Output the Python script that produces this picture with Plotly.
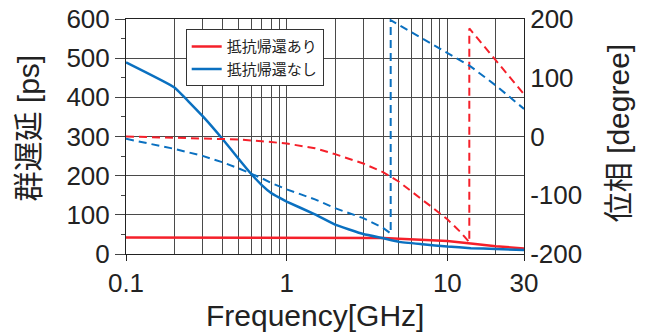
import plotly.graph_objects as go
import numpy as np

# ---- data ----
freq_delay = [0.1, 0.2, 0.3, 0.4, 0.5, 0.6, 0.7, 0.8, 0.9, 1, 1.5, 2, 3, 4, 5, 7, 10, 14, 20, 30]
delay_with = [42, 42, 42, 42, 42, 42, 42, 42, 42, 42, 42, 42, 42, 41, 39, 37, 33, 27, 20, 14]
delay_without = [489, 425, 352, 293, 244, 205, 176, 156, 144, 134, 101, 75, 51, 40, 31, 25, 19, 15, 13, 10]

freq_phase_with = [0.1, 0.2, 0.3, 0.5, 0.7, 1, 1.5, 2, 3, 4, 5, 6, 7, 8, 10, 12, 13.7, 13.7, 20, 30]
phase_with = [0, -2, -3, -5, -8, -12, -20, -30, -46, -61, -77, -93, -108, -120, -141, -162, -180, 184, 130, 72]

freq_phase_without = [0.1, 0.2, 0.3, 0.4, 0.5, 0.6, 0.7, 0.8, 0.9, 1, 1.5, 2, 3, 4, 4.44, 4.44, 5, 7, 10, 14, 20, 30]
phase_without = [-4, -21, -33, -44, -54, -63, -71, -79, -85, -90, -107, -122, -139, -156, -165, 198, 190, 167, 142, 119, 87, 47]

legend_names = ["抵抗帰還あり", "抵抗帰還なし"]
x_tick_vals = [0.1, 1, 10, 30]
x_tick_text = ["0.1", "1", "10", "30"]
x_minor_vals = [0.2, 0.3, 0.4, 0.5, 0.6, 0.7, 0.8, 0.9, 2, 3, 4, 5, 6, 7, 8, 9, 20]
phase_tick_vals = [-200, -100, 0, 100, 200]
phase_tick_text = ["-200", "-100", "0", "100", "200"]

RED = "#f5202a"
BLUE = "#0a70c0"
FONT = "Liberation Sans, Arial, Noto Sans CJK JP, sans-serif"
GRID = "#4a4a4a"
TXT = "#222222"

fig = go.Figure()
fig.add_trace(go.Scatter(x=freq_delay, y=delay_with, mode="lines", name=legend_names[0],
                         line=dict(color=RED, width=2.5)))
fig.add_trace(go.Scatter(x=freq_delay, y=delay_without, mode="lines", name=legend_names[1],
                         line=dict(color=BLUE, width=2.5, shape="spline", smoothing=0.3)))
fig.add_trace(go.Scatter(x=freq_phase_with, y=phase_with, mode="lines", showlegend=False,
                         yaxis="y2", line=dict(color=RED, width=2, dash="8px,5px")))
fig.add_trace(go.Scatter(x=freq_phase_without, y=phase_without, mode="lines", showlegend=False,
                         yaxis="y2", line=dict(color=BLUE, width=2, dash="8px,5px")))

fig.update_layout(
    width=647, height=333,
    margin=dict(l=126, r=123, t=19, b=79),
    paper_bgcolor="white", plot_bgcolor="white",
    font=dict(family=FONT, color=TXT),
    showlegend=True,
    legend=dict(x=0.15, y=0.956, xanchor="left", yanchor="top",
                bgcolor="white", bordercolor="#333333", borderwidth=1,
                font=dict(size=15, family=FONT, color=TXT),
                itemwidth=30, tracegroupgap=0),
    xaxis=dict(type="log", range=[-1, np.log10(30)], automargin=False,
               tickmode="array", tickvals=x_tick_vals, ticktext=x_tick_text,
               ticks="outside", ticklen=6, tickcolor="#222", tickwidth=1,
               tickfont=dict(size=26, family=FONT, color=TXT),
               showgrid=True, gridcolor=GRID, gridwidth=1,
               minor=dict(tickmode="array", tickvals=x_minor_vals, showgrid=True,
                          gridcolor=GRID, gridwidth=1, ticks=""),
               showline=True, linecolor="#222", linewidth=1, mirror=True,
               zeroline=False),
    yaxis=dict(range=[0, 600], tickmode="linear", tick0=0, dtick=100, automargin=False,
               ticks="outside", ticklen=10, tickcolor="#444", tickwidth=1,
               tickfont=dict(size=26, family=FONT, color=TXT),
               showgrid=True, gridcolor=GRID, gridwidth=1,
               minor=dict(dtick=50, ticks="outside", ticklen=4, tickcolor="#444", showgrid=False),
               showline=True, linecolor="#222", linewidth=1, zeroline=False),
    yaxis2=dict(range=[-200, 200], overlaying="y", side="right", automargin=False,
                tickmode="array", tickvals=phase_tick_vals, ticktext=phase_tick_text, ticks="",
                tickfont=dict(size=26, family=FONT, color=TXT),
                showgrid=False, showline=True, linecolor="#222", linewidth=1,
                zeroline=False),
    annotations=[
        dict(text="Frequency[GHz]", xref="paper", yref="paper", x=0.475, y=-0.262,
             xanchor="center", yanchor="middle", showarrow=False,
             font=dict(size=30, family=FONT, color=TXT)),
        dict(text="群遅延 [ps]", xref="paper", yref="paper", x=-0.2437, y=0.534,
             xanchor="center", yanchor="middle", textangle=-90, showarrow=False,
             font=dict(size=30, family=FONT, color=TXT)),
        dict(text="位相 [degree]", xref="paper", yref="paper", x=1.236, y=0.5136,
             xanchor="center", yanchor="middle", textangle=-90, showarrow=False,
             font=dict(size=30, family=FONT, color=TXT)),
    ],
)

fig.write_html("out.html", config={"displayModeBar": False},
               post_script="document.body.style.margin='0';document.body.style.overflow='hidden';")
